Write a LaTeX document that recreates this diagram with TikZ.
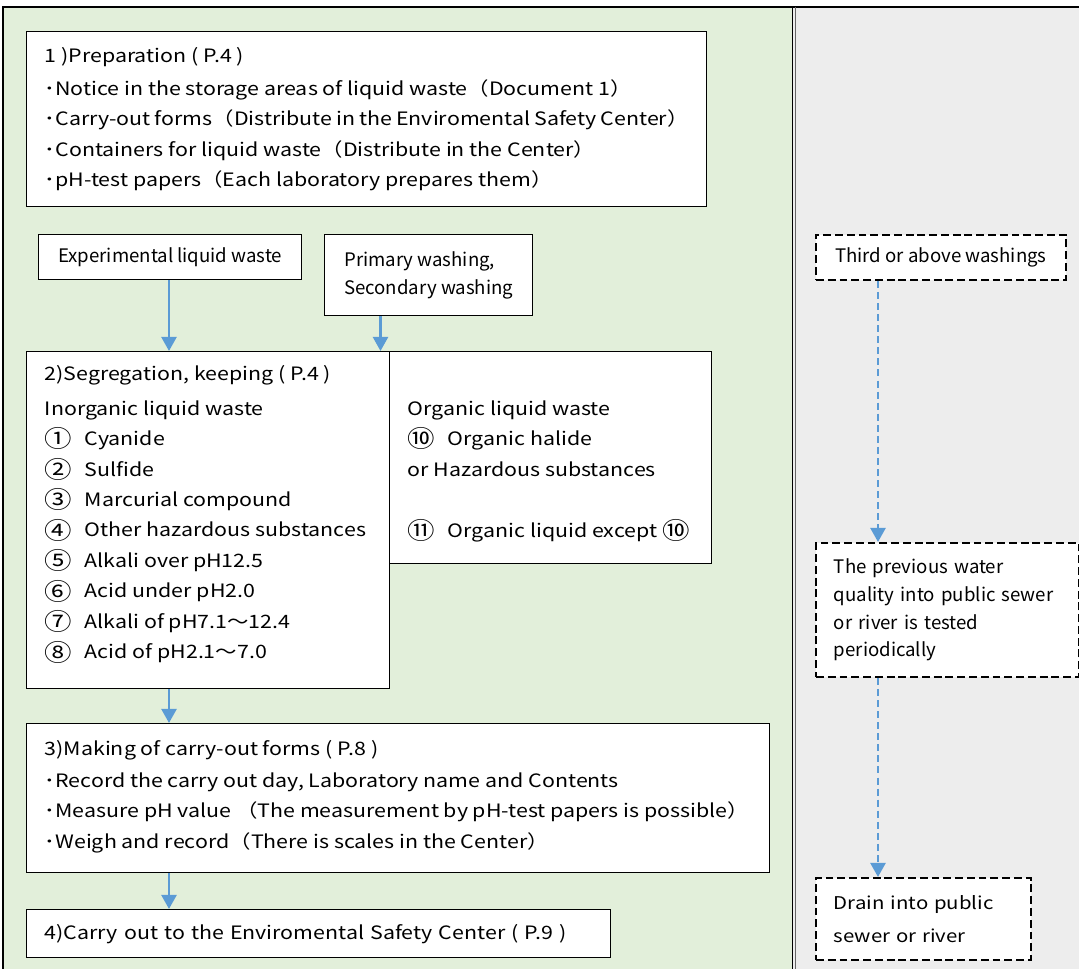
\documentclass[tikz,border=0pt]{standalone}
\usepackage{fontspec}
\setmainfont{Noto Sans CJK JP}
\newfontfamily\widefamily[FakeStretch=1.16]{Noto Sans CJK JP}
\usepackage{tikz}
\usetikzlibrary{arrows.meta}
\definecolor{panelgreen}{HTML}{E2EFDA}
\definecolor{panelgray}{HTML}{EDEDED}
\definecolor{arrowblue}{HTML}{5B9BD5}
\def\boxfont{\fontsize{10.6}{17.35}\selectfont}
\def\stepfont{\widefamily\fontsize{10.5}{17.35}\selectfont}
\def\drainfont{\widefamily\fontsize{10}{17.35}\selectfont}
\def\toptext#1#2#3#4{\parbox[t][#2][t]{#1}{\vspace*{#3}\strut#4}}
\def\circnum#1{\raisebox{-1.3pt}{\fontsize{13.5}{17.35}\selectfont#1}}
\def\numline#1#2{\makebox[0.8cm][l]{\circnum{#1}}#2}
\tikzset{
	box/.style={draw, fill=white, line width=0.85pt, anchor=north west, inner xsep=0.36cm, inner ysep=0pt, font=\boxfont},
	stepbox/.style={box, font=\stepfont},
	dbox/.style={box, line width=1.1pt, dash pattern=on 4.5pt off 2.2pt},
	flow/.style={draw=arrowblue, line width=1.5pt, -{Triangle[width=8.5pt,length=8pt]}},
	dflow/.style={flow, dash pattern=on 4pt off 2.3pt}
}

\begin{document}
\begin{tikzpicture}[x=0.02cm, y=-0.02cm]
		%%%%% START %%%%%
		\useasboundingbox (0, 0) rectangle (1079, 969);
		
		\fill[white] (0, 0) rectangle (1079, 969);
		\fill[panelgreen] (3, 7) rectangle (793, 969);
		\fill[panelgray] (793, 7) rectangle (1079, 969);
		\draw[line width=0.8pt] (3, 969) -- (3, 7) -- (1079, 7);
		\draw[line width=0.8pt] (792.5, 7) -- (792.5, 969);
		\draw[line width=0.5pt, color=black!60] (795.5, 7) -- (795.5, 969);
		
		\node[stepbox] (prep) at (26, 31) {\toptext{12.88cm}{3.5cm}{0.18cm}{1 )Preparation ( P.4 )\\[0.05cm]
			･Notice in the storage areas of liquid waste（Document 1）\\
			･Carry-out forms（Distribute in the Enviromental Safety Center）\\
			･Containers for liquid waste（Distribute in the Center）\\
			･pH-test papers（Each laboratory prepares them）}};
		
		\node[box, minimum width=5.26cm, minimum height=0.9cm] (exp) at (38, 234) {Experimental liquid waste};
		\node[box, minimum width=4.16cm, minimum height=1.62cm, align=left] (prim) at (324, 234) {Primary washing,\\[-1.5pt]Secondary washing};
		
		\node[stepbox] (seg) at (26, 351) {\toptext{6.54cm}{6.74cm}{0.14cm}{2)Segregation, keeping ( P.4 )\\[0.09cm]
			Inorganic liquid waste\\
			\numline{①}{Cyanide}\\
			\numline{②}{Sulfide}\\
			\numline{③}{Marcurial compound}\\
			\numline{④}{Other hazardous substances}\\
			\numline{⑤}{Alkali over pH12.5}\\
			\numline{⑥}{Acid under pH2.0}\\
			\numline{⑦}{Alkali of pH7.1～12.4}\\
			\numline{⑧}{Acid of pH2.1～7.0}}};
		\node[stepbox] (org) at (389, 351) {\toptext{5.72cm}{4.24cm}{0.84cm}{Organic liquid waste\\
			\numline{⑩}{Organic halide}\\
			or Hazardous substances\\[\baselineskip]
			\numline{⑪}{Organic liquid except \circnum{⑩}}}};
		
		\node[stepbox] (form) at (26, 723) {\toptext{14.14cm}{2.98cm}{0.2cm}{3)Making of carry-out forms ( P.8 )\\[0.03cm]
			･Record the carry out day, Laboratory name and Contents\\
			･Measure pH value （The measurement by pH-test papers is possible）\\
			･Weigh and record（There is scales in the Center）}};
		\node[stepbox, text width=10.96cm, minimum height=0.96cm, align=left] (carry) at (26, 909) {4)Carry out to the Enviromental Safety Center ( P.9 )};
		
		\node[dbox, minimum width=5.0cm, minimum height=0.9cm] (third) at (815, 234) {Third or above washings};
		\node[dbox, text width=4.54cm, minimum height=2.68cm, align=left] (prev) at (815, 542) {The previous water\\[-1.5pt]quality into public sewer\\[-1.5pt]or river is tested\\[-1.5pt]periodically};
		\node[dbox, font=\drainfont, text width=3.58cm, minimum height=1.64cm, align=left] (drain) at (815, 877) {Drain into public\\[1.4pt]sewer or river};
		
		\coordinate (mainx) at (169, 0);
		\coordinate (washx) at (380.5, 0);
		\coordinate (sidex) at (878, 0);
		
		\draw[flow] (exp.south -| mainx) -- (seg.north -| mainx);
		\draw[flow] (prim.south -| washx) -- (seg.north -| washx);
		\draw[flow] (seg.south -| mainx) -- (form.north -| mainx);
		\draw[flow] (form.south -| mainx) -- (carry.north -| mainx);
		
		\draw[dflow] (third.south -| sidex) -- (prev.north -| sidex);
		\draw[dflow] (prev.south -| sidex) -- (drain.north -| sidex);
		%%%%% END %%%%%
\end{tikzpicture}
\end{document}
